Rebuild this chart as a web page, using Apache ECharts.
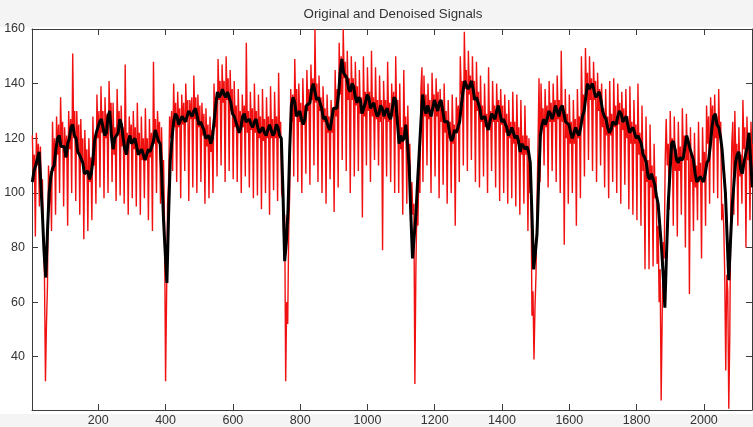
<!DOCTYPE html>
<html>
<head>
<meta charset="utf-8">
<script src="https://cdn.jsdelivr.net/npm/echarts@6/dist/echarts.min.js"></script>
<style>
  html, body { margin: 0; padding: 0; background: #fff; }
  #chart {
    width: 753px; height: 427px;
    background: linear-gradient(to bottom, #f4f4f4 0, #f4f4f4 27px, #fff 27px, #fff 414px, #f4f4f4 414px);
  }
</style>
</head>
<body>
<div id="chart"></div>
<script>
// Plot title and axis ticks
const chartTitle = 'Original and Denoised Signals';
const xTicks = [200, 400, 600, 800, 1000, 1200, 1400, 1600, 1800, 2000];
const yTicks = [40, 60, 80, 100, 120, 140, 160];

// Sample index of the first stored value and spacing between stored samples
const sampleStart = 4;
const originalStep = 3;
const denoisedStep = 5;

// Original (noisy) signal
const original = [
  121,106,114, 84, 122,110,118, 95, 117,100,105, 82,  70, 31, 52, 66, 110, 96,108, 86,
  126,108,120, 92, 128,114,125,100, 135,118,126, 95, 124,113,121, 88, 130,116,127,100,
  151,120,130, 97, 130,117,125, 92, 127,112,120, 83, 123,108,116, 86, 120,104,113, 90,
  128,110,121, 96, 136,120,130,102, 139,122,130, 98, 135,120,129,100, 141,126,133,104,
  133,114,124, 97, 138,121,130, 99, 132,117,124, 96, 147,114,122, 92, 128,118,125, 98,
  130,116,124, 95, 133,114,122, 92, 128,112,120, 98, 131,112,120, 90, 127,113,122, 86,
  148,118,127,100, 130,120,126, 96, 124,106,112, 88,  31, 62, 96,104, 128,120,130,108,
  140,124,133,104, 137,124,131, 98, 136,125,133,108, 140,126,134, 97, 134,127,135,102,
  143,127,135,100, 136,124,132,104, 133,121,129, 96, 131,117,125, 98, 128,115,123,100,
  140,124,135,106, 149,134,141,110, 147,133,141,104, 150,134,142,108, 145,130,138,105,
  141,124,132,104, 138,122,130,100, 136,124,132,106, 155,122,130,102, 137,123,131, 98,
  140,122,130, 99, 136,120,128, 94, 138,119,127,100, 135,120,128, 92, 139,120,127,101,
  137,120,128, 97, 144,120,126,100,  98, 84, 92, 31,  60, 52, 86,100, 138,126,136,106,
  149,130,138,104, 140,126,133,100, 142,126,132,107, 145,130,138,103, 147,134,142,110,
  160,133,140,104, 143,130,135,100, 139,126,131, 96, 136,122,128,105, 134,122,131, 93,
  145,128,138,102, 155,136,150,112, 160,142,148,108, 152,134,142,100, 150,134,142,106,
  148,132,139,108, 145,129,135, 91, 150,128,137,110, 146,130,137,104, 152,128,135,112,
  146,127,134,110, 143,126,134, 79, 141,127,134,106, 148,126,133,104, 140,128,137,100,
  150,128,134,100, 140,116,124, 92, 145,120,128, 96, 132,112,118, 88, 104, 92, 96, 30,
   72, 96, 88,110, 100,138,146,104, 143,128,136,110, 140,127,134,100, 144,130,136,106,
  142,128,137, 98, 138,126,133,103, 140,122,130, 96, 134,120,126,100, 136,118,125, 88,
  135,124,132,104, 150,136,141,110, 159,138,145,108, 152,136,143,112, 150,134,141,104,
  148,130,137,102, 143,126,132,106, 140,124,129,100, 146,123,130,108, 141,126,132,102,
  140,126,134, 97, 138,125,132,100, 136,122,129, 96, 134,120,126, 98, 137,118,126, 95,
  136,118,124, 92, 134,114,121, 96, 132,114,121, 86, 120,100,106, 55,  64, 39, 58, 70,
   96,118,142,104, 140,124,131,110, 138,124,132,102, 141,126,133,108, 140,126,134,104,
  143,127,134,100, 152,126,132, 81, 138,120,129, 96, 136,118,126,100, 134,118,127, 88,
  138,120,128, 98, 150,128,136,106, 153,136,144,112, 150,134,142,108, 148,134,141,104,
  144,130,138,110, 140,124,131,102, 138,121,128, 98, 141,121,129,104, 142,124,132,100,
  140,125,133, 96, 137,123,131,103, 138,120,128, 94, 139,118,126, 92, 134,118,125, 90,
  140,114,122, 88, 132,108,116, 72, 128,104,112, 72, 125,102,110, 73, 118, 98,106, 74,
   88, 60, 72, 24,  54, 82, 76,112, 127,110,118, 94, 130,110,120, 88, 128,108,116, 84,
  126,108,117, 92, 131,112,121, 80, 129,112,120, 63, 124,104,112, 86, 122,102,110, 90,
  126,104,111, 76, 124,106,115, 88, 132,118,128, 96, 135,124,132,100, 136,120,128, 98,
  138,120,126, 90,  96, 88, 70, 35,  70, 64, 21, 48,  96,118,126, 92, 130,112,118, 88,
  124,106,114, 96, 134,116,124, 80, 128,112,120, 90, 126,110,118, 86
];

// Denoised signal
const denoised = [
  104,108, 110,110, 115,104,  92, 78,  69, 86, 100,106, 109,110, 116,120, 121,117, 117,117,
  113,118, 120,124, 125,121, 120,115, 114,114, 111,107, 107,108, 105,107, 112,119, 122,122,
  126,127, 124,121, 122,128, 130,121, 116,120, 120,122, 127,125, 120,116, 114,119, 121,118,
  119,120, 117,114, 115,116, 114,112, 114,116, 115,115, 119,123, 123,119, 118,106,  90, 78,
   67, 92, 112,120, 126,129, 128,125, 125,128, 127,126, 128,130, 129,128, 130,131, 128,125,
  126,126, 123,120, 120,121, 118,120, 126,132, 137,135, 136,138, 136,135, 137,137, 133,129,
  128,128, 124,122, 124,128, 129,126, 126,127, 125,124, 126,127, 124,122, 123,124, 122,121,
  123,125, 123,121, 122,125, 124,121, 120,100,  75, 82,  94,116, 132,135, 133,128, 128,130,
  127,125, 127,132, 132,133, 138,140, 137,134, 135,135, 131,127, 128,128, 124,123, 127,131,
  131,131, 136,144, 149,144, 143,142, 138,137, 140,139, 135,133, 135,134, 129,129, 133,136,
  135,131, 131,133, 130,128, 129,132, 131,128, 130,131, 128,127, 131,135, 134,126, 118,121,
  119,120, 125,118, 110, 92,  76, 84,  92,104, 115,126, 136,131, 129,132, 130,128, 131,134,
  132,130, 133,134, 130,126, 126,126, 122,119, 120,123, 122,122, 126,132, 137,141, 141,138,
  139,141, 138,134, 135,135, 131,127, 127,128, 125,123, 126,129, 128,127, 130,132, 129,126,
  127,127, 124,121, 122,124, 122,120, 121,119, 115,118, 118,116, 117,115, 111, 92,  72, 78,
   85,104, 121,125, 127,125, 127,130, 129,127, 129,132, 130,128, 131,132, 129,126, 126,125,
  122,120, 122,124, 122,121, 124,128, 130,135, 140,138, 139,140, 137,135, 136,137, 134,130,
  128,127, 124,122, 123,126, 126,125, 128,130, 129,126, 127,128, 125,122, 122,124, 122,120,
  121,121, 118,114, 113,111, 106,105, 107,107, 103, 99,  96, 88,  80, 70,  58, 78,  96,107,
  118,119, 116,112, 111,113, 112,113, 117,121, 121,116, 114,112, 107,104, 104,106, 105,104,
  107,111, 112,117, 124,128, 129,125, 124,121, 116,108, 100, 84,  68, 82,  95,103, 111,114,
  115,109, 107,111, 114,117, 122,112, 102
];

const originalData = original.map((v, i) => [sampleStart + i * originalStep, v]);
const denoisedData = denoised.map((v, i) => [sampleStart + i * denoisedStep, v]);

const font = '"Liberation Sans", Arial, Helvetica, sans-serif';
const axisColor = '#3c3c3c';

function xAxisDef(pos) {
  return {
    type: 'value', position: pos, min: 3, max: 2143,
    axisLine: { show: true, onZero: false, lineStyle: { color: axisColor, width: 1 } },
    axisTick: { show: true, inside: true, length: 6, customValues: xTicks, lineStyle: { color: axisColor } },
    axisLabel: pos === 'bottom'
      ? { show: true, customValues: xTicks, formatter: v => String(v), color: '#333', fontSize: 12.5, fontFamily: font, margin: 4 }
      : { show: false },
    splitLine: { show: false }
  };
}
function yAxisDef(pos) {
  return {
    type: 'value', position: pos, min: 20.5, max: 160,
    axisLine: { show: true, onZero: false, lineStyle: { color: axisColor, width: 1 } },
    axisTick: { show: true, inside: true, length: 6, customValues: yTicks, lineStyle: { color: axisColor } },
    axisLabel: pos === 'left'
      ? { show: true, customValues: yTicks, formatter: v => String(v), color: '#333', fontSize: 12.5, fontFamily: font, margin: 7 }
      : { show: false },
    splitLine: { show: false }
  };
}

const chart = echarts.init(document.getElementById('chart'), null, { renderer: 'canvas' });
chart.setOption({
  animation: false,
  backgroundColor: 'transparent',
  grid: { left: 32, right: 1, top: 29, bottom: 14.5, containLabel: false },
  xAxis: [xAxisDef('bottom'), xAxisDef('top')],
  yAxis: [yAxisDef('left'), yAxisDef('right')],
  graphic: [{
    type: 'text', x: 393, y: 14, silent: true,
    style: { text: chartTitle, fill: '#333', fontSize: 13.3, fontFamily: font, align: 'center', verticalAlign: 'middle' }
  }],
  series: [
    {
      name: 'Original', type: 'line', xAxisIndex: 0, yAxisIndex: 0,
      data: originalData, symbol: 'none', silent: true, z: 2,
      lineStyle: { color: '#f01010', width: 1.4 }
    },
    {
      name: 'Denoised', type: 'line', xAxisIndex: 0, yAxisIndex: 0,
      data: denoisedData, symbol: 'none', silent: true, z: 3,
      lineStyle: { color: '#000000', width: 3 }
    }
  ]
});
</script>
</body>
</html>
